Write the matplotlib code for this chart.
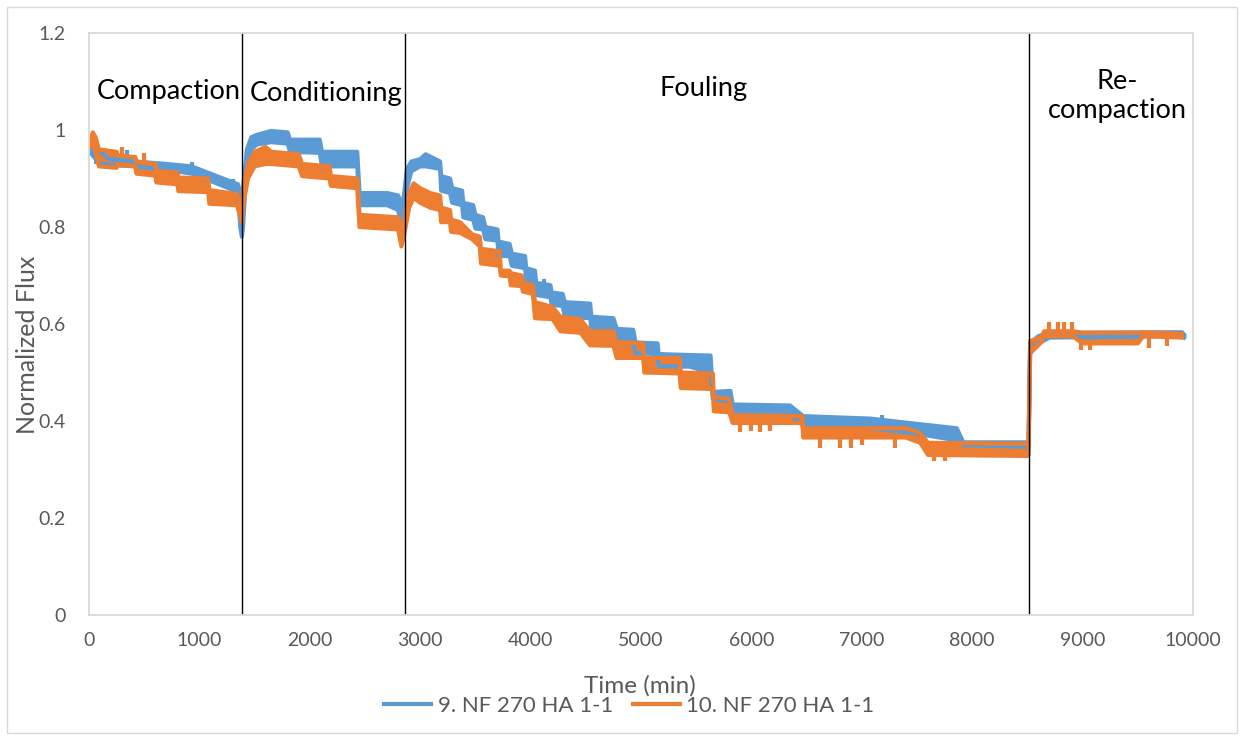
import matplotlib
matplotlib.use('Agg')
import matplotlib.pyplot as plt
from matplotlib.lines import Line2D
from matplotlib.patches import Rectangle

plt.rcParams['font.family'] = ['Lato', 'DejaVu Sans']

# phase boundaries (min) and labels
phase_t = [1390, 2860, 8510]
phase_names = ['Compaction', 'Conditioning', 'Fouling', 'Re-\ncompaction']
phase_label_t = [725, 2151, 5570, 9312]
phase_label_y = [1.080, 1.076, 1.085, 1.071]

series_names = ['9. NF 270 HA 1-1', '10. NF 270 HA 1-1']

# series 9: time and band (low / high)
t9 = [0, 90, 180, 420, 700, 930, 1100, 1350, 1370, 1385,
      1395, 1430, 1470, 1520, 1650, 1800, 1820, 2090, 2110, 2430, 2450, 2700, 2800,
      2830, 2850, 2880, 2920, 3000, 3050, 3180, 3190, 3270, 3290, 3380, 3390, 3480,
      3500, 3570, 3590, 3700, 3710, 3810, 3830, 3950, 3960, 4040, 4050, 4180, 4190,
      4290, 4310, 4540, 4550, 4750, 4780, 4930, 4950, 5150, 5160, 5440, 5630, 5650,
      5810, 5830, 6350, 6470, 7075, 7465, 7860, 7920, 8500, 8510, 8525, 8600, 8700,
      9900, 9920]
lo9 = [0.957, 0.932, 0.928, 0.925, 0.918, 0.91, 0.895, 0.872, 0.80, 0.78,
       0.80, 0.93, 0.96, 0.97, 0.975, 0.972, 0.955, 0.953, 0.925,
       0.925, 0.845, 0.845, 0.835, 0.80, 0.82, 0.88, 0.915, 0.925, 0.925, 0.92, 0.875,
       0.87, 0.85, 0.845, 0.82, 0.815, 0.797, 0.795, 0.775, 0.772, 0.74, 0.74, 0.72,
       0.715, 0.69, 0.685, 0.66, 0.655, 0.64, 0.637, 0.615, 0.612, 0.59, 0.588, 0.563,
       0.562, 0.54, 0.538, 0.513, 0.512, 0.50, 0.445, 0.44, 0.415, 0.414, 0.39, 0.385,
       0.375, 0.36, 0.35, 0.347, 0.34, 0.54, 0.56, 0.572, 0.575, 0.572]
hi9 = [0.976, 0.96, 0.94, 0.935, 0.93, 0.925, 0.91, 0.888, 0.87, 0.80,
       0.88, 0.96, 0.985, 0.99, 0.998, 0.995, 0.98, 0.98, 0.955,
       0.955, 0.87, 0.87, 0.865, 0.85, 0.86, 0.92, 0.935, 0.94, 0.95, 0.935, 0.905,
       0.90, 0.88, 0.875, 0.85, 0.845, 0.825, 0.82, 0.80, 0.795, 0.77, 0.765, 0.745,
       0.74, 0.715, 0.71, 0.685, 0.68, 0.665, 0.662, 0.645, 0.642, 0.615, 0.612, 0.59,
       0.588, 0.562, 0.56, 0.538, 0.536, 0.535, 0.46, 0.462, 0.434, 0.432, 0.41, 0.405,
       0.395, 0.385, 0.356, 0.356, 0.35, 0.56, 0.575, 0.582, 0.583, 0.578]
spike9_t = [60, 340, 935, 1300, 4120, 6330, 7180, 7900]
spike9_from = [0.95, 0.935, 0.92, 0.88, 0.675, 0.42, 0.39, 0.356]
spike9_to = [0.93, 0.958, 0.935, 0.90, 0.692, 0.43, 0.412, 0.37]

# series 10
t10 = [0, 35, 60, 90, 250, 260, 420, 430, 600, 610, 800, 810, 1080, 1090, 1340, 1385,
       1400, 1440, 1500, 1600, 1650, 1900, 1930, 2180, 2190, 2430, 2450, 2800, 2830,
       2860, 2900, 2940, 3000, 3090, 3180, 3190, 3270, 3280, 3360, 3470, 3540, 3550,
       3720, 3730, 3810, 3820, 3920, 3930, 4020, 4040, 4200, 4270, 4450, 4540, 4750,
       4780, 5020, 5030, 5350, 5360, 5650, 5660, 5800, 5830, 6460, 6470, 7400, 7530,
       7600, 8500, 8510, 8525, 8630, 8650, 8900, 8910, 9000, 9500, 9550, 9900]
lo10 = [0.962, 0.975, 0.955, 0.925, 0.922, 0.928, 0.925, 0.91, 0.906, 0.892, 0.888,
        0.874, 0.872, 0.848, 0.845, 0.81,
        0.85, 0.90, 0.925, 0.93, 0.93, 0.925, 0.905, 0.90, 0.885,
        0.88, 0.80, 0.795, 0.76, 0.79, 0.84, 0.86, 0.85, 0.84, 0.835, 0.81, 0.81,
        0.79, 0.788, 0.775, 0.76, 0.725, 0.72, 0.70, 0.698, 0.68, 0.678, 0.667, 0.662,
        0.612, 0.61, 0.585, 0.582, 0.556, 0.555, 0.53, 0.53, 0.50, 0.498, 0.468, 0.466,
        0.42, 0.418, 0.396, 0.396, 0.366, 0.366, 0.355, 0.33, 0.328, 0.33, 0.54, 0.563,
        0.575, 0.575, 0.575, 0.56, 0.56, 0.575, 0.572]
hi10 = [0.972, 0.995, 0.985, 0.96, 0.955, 0.948, 0.944, 0.935, 0.93, 0.916, 0.912,
        0.902, 0.9, 0.876, 0.868, 0.83,
        0.88, 0.93, 0.955, 0.965, 0.955, 0.95, 0.93, 0.925, 0.905,
        0.90, 0.825, 0.82, 0.79, 0.82, 0.87, 0.89, 0.88, 0.87, 0.865, 0.84, 0.835,
        0.815, 0.81, 0.785, 0.78, 0.755, 0.75, 0.71, 0.71, 0.705, 0.70, 0.685, 0.68,
        0.645, 0.635, 0.615, 0.61, 0.585, 0.585, 0.563, 0.56, 0.53, 0.53, 0.50, 0.498,
        0.45, 0.445, 0.412, 0.41, 0.385, 0.385, 0.375, 0.355, 0.353, 0.345, 0.565,
        0.573, 0.585, 0.585, 0.585, 0.582, 0.582, 0.583, 0.58]
spike10_t = [300, 500, 5900, 6000, 6080, 6170, 6620, 6800, 6900, 7000, 7300, 7650,
             7750, 8700, 8780, 8830, 8900, 8990, 9070, 9600, 9760]
spike10_from = [0.95, 0.935, 0.40, 0.40, 0.40, 0.40, 0.37, 0.37, 0.37, 0.37, 0.365,
                0.33, 0.33, 0.58, 0.58, 0.58, 0.58, 0.56, 0.56, 0.575, 0.575]
spike10_to = [0.965, 0.952, 0.378, 0.38, 0.378, 0.38, 0.345, 0.345, 0.345, 0.35,
              0.345, 0.318, 0.318, 0.605, 0.605, 0.605, 0.605, 0.546, 0.546, 0.55,
              0.555]

blue = '#5B9BD5'
orange = '#ED7D31'
grey_txt = '#595959'
lw = 3

fig = plt.figure(figsize=(12.44, 7.40), dpi=100)
ax = fig.add_axes([89 / 1244, 1 - 615 / 740, (1193 - 89) / 1244, (615 - 33) / 740])

for t, lo, hi, st, sf, sto, c in [(t9, lo9, hi9, spike9_t, spike9_from, spike9_to, blue),
                                  (t10, lo10, hi10, spike10_t, spike10_from, spike10_to, orange)]:
    ax.fill_between(t, lo, hi, color=c, lw=0)
    ax.plot(t, lo, color=c, lw=lw, solid_joinstyle='round')
    ax.plot(t, hi, color=c, lw=lw, solid_joinstyle='round')
    ax.vlines(st, sf, sto, color=c, lw=lw)

for pt in phase_t:
    ax.axvline(pt, color='black', lw=1)

for name, x, y in zip(phase_names, phase_label_t, phase_label_y):
    ax.text(x, y, name, ha='center', va='center', fontsize=19.5, color='black',
            linespacing=1.2)

ax.set_xlim(0, 10000)
ax.set_ylim(0, 1.2)
ax.set_xticks(range(0, 10001, 1000))
ax.set_yticks([0, 0.2, 0.4, 0.6, 0.8, 1.0, 1.2])
ax.set_yticklabels(['0', '0.2', '0.4', '0.6', '0.8', '1', '1.2'])
ax.tick_params(length=0, labelsize=14, labelcolor=grey_txt)
ax.tick_params(axis='y', pad=17)
ax.tick_params(axis='x', pad=12)
for s in ax.spines.values():
    s.set_color('#D9D9D9')
    s.set_linewidth(1.3)

fig.text(640 / 1244, 1 - 686 / 740, 'Time (min)', ha='center', va='center',
         fontsize=17.5, color=grey_txt)
fig.text(28 / 1244, 1 - 345 / 740, 'Normalized Flux', ha='center', va='center',
         rotation=90, fontsize=18, color=grey_txt)

handles = [Line2D([], [], color=blue, lw=lw), Line2D([], [], color=orange, lw=lw)]
fig.legend(handles, series_names, loc='center', bbox_to_anchor=(0.506, 1 - 706 / 740),
           ncol=2, frameon=False, fontsize=16, handlelength=2.1, columnspacing=0.9,
           handletextpad=0.3, labelcolor=grey_txt)

fig.patches.append(Rectangle((7 / 1244, 7 / 740), 1230 / 1244, 726 / 740,
                             transform=fig.transFigure, fill=False,
                             edgecolor='#D9D9D9', lw=1))

fig.savefig('out.png', dpi=100)
